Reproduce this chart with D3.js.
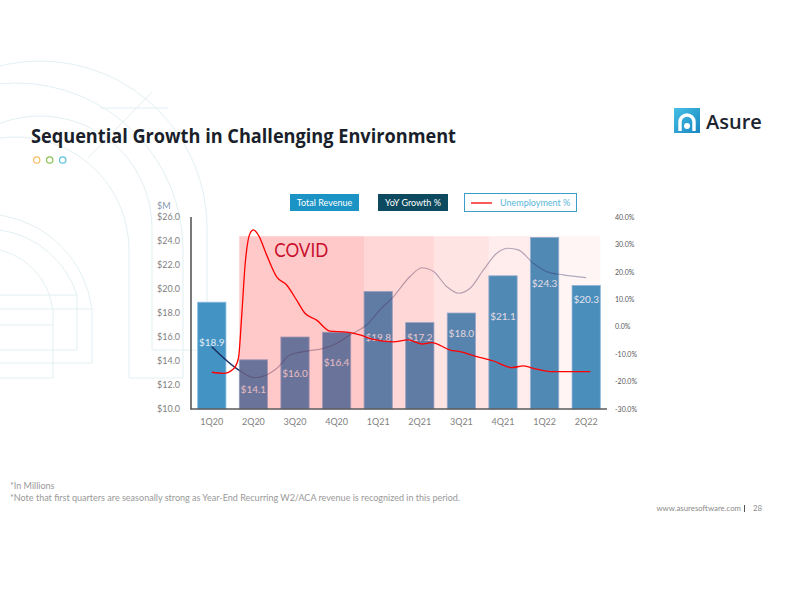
<!DOCTYPE html>
<html><head><meta charset="utf-8">
<script src="https://cdn.jsdelivr.net/npm/d3@7"></script>
<style>
html,body{margin:0;padding:0;background:#fff;}
svg{display:block;}
text{font-family:Lato,"Open Sans",sans-serif;}
</style></head>
<body>
<svg id="c" width="792" height="612"></svg>
<script>
// ---------- data ----------
const categories = ["1Q20","2Q20","3Q20","4Q20","1Q21","2Q21","3Q21","4Q21","1Q22","2Q22"];
const revenue = [18.9, 14.1, 16.0, 16.4, 19.8, 17.2, 18.0, 21.1, 24.3, 20.3];
// label anchor (in $M on the left axis)
const revenueLabelAt = [15.25, 11.33, 12.67, 13.6, 15.7, 15.7, 16.0, 17.4, 20.2, 18.8];
const leftTicks = [10, 12, 14, 16, 18, 20, 22, 24, 26];
const rightTicks = [-30, -20, -10, 0, 10, 20, 30, 40];
// YoY growth % (x = quarter index, fractional between quarters)
const yoyIndex = [0, 0.68, 1.04, 1.56, 1.88, 2.28, 2.68, 3.0, 3.32, 3.72, 4.04, 4.36, 4.76, 5.05, 5.33, 5.65, 5.93, 6.21, 6.53, 6.85, 7.13, 7.37, 7.73, 8.05, 8.45, 9.0];
const yoyValue = [-7.3, -16.1, -18.6, -15.2, -10.3, -8.9, -7.9, -6.1, -3.0, 0.6, 6.1, 10.9, 18.2, 21.5, 20.1, 14.6, 12.2, 14.0, 20.7, 26.8, 28.6, 28.0, 23.1, 20.1, 18.9, 17.9];
// Unemployment % curve (right axis)
const unempIndex = [0, 0.28, 0.52, 0.64, 0.72, 0.80, 0.92, 1.0, 1.12, 1.32, 1.56, 1.80, 2.04, 2.24, 2.52, 2.84, 3.24, 3.56, 3.88, 4.36, 4.72, 5.05, 5.29, 5.73, 5.97, 6.37, 6.77, 7.21, 7.49, 7.81, 8.17, 9.1];
const unempValue = [-16.6, -17.0, -15.4, -11.5, 4.3, 22.5, 34.1, 35.3, 33.4, 26.1, 18.2, 15.2, 9.7, 4.9, 2.4, -1.6, -2.0, -3.0, -4.6, -5.5, -4.8, -6.3, -5.8, -8.5, -9.1, -10.9, -12.5, -14.9, -14.3, -15.5, -16.4, -16.4];
// COVID shading phases: [category, side of bar]
const shadeFrom = [["2Q20","L"],["1Q21","L"],["2Q21","R"],["4Q21","L"],["1Q22","R"]];
const shadeTo   = [["1Q21","L"],["2Q21","R"],["4Q21","L"],["1Q22","R"],["2Q22","R"]];
const shadeTop = 24.4;
const legendLabels = ["Total Revenue", "YoY Growth %", "Unemployment %"];

// ---------- drawing ----------
const svg = d3.select("#c");

// decorative background outline (faint)
const deco = svg.append("g").attr("fill","none").attr("stroke","#E3F0F4").attr("stroke-width",1);
function arch(cx, cy, rOut, rIn, bottom){
  return `M${cx+rOut},${bottom} L${cx+rOut},${cy} A${rOut},${rOut} 0 0 0 ${cx-rOut},${cy} ` +
         `M${cx+rIn},${bottom} L${cx+rIn},${cy} A${rIn},${rIn} 0 0 0 ${cx-rIn},${cy} ` +
         `M${cx+rIn},${bottom} L${cx+rOut},${bottom}`;
}
deco.append("path").attr("d", arch(16, 250, 167, 113, 378));
deco.append("path").attr("d", arch(40, 228, 167, 112, 350));
deco.append("path").attr("d", "M0,295 L77,295 L77,350 L0,350 M0,309 L92,309 L92,363 L0,363 M0,325 L53,325 L53,378 L0,378");
deco.append("path").attr("d", "M0,230 A95,95 0 0 1 77,295 M0,215 A110,110 0 0 1 92,309 M0,250 A70,70 0 0 1 53,325");
deco.append("path").attr("d", "M152,92 L88,158 M100,108 L168,108");

// title
const title = svg.append("text").attr("x",31).attr("y",143)
  .style("font-family","'Open Sans',sans-serif").style("font-weight","700").style("font-size","20px")
  .attr("fill","#1A1F2B").text("Sequential Growth in Challenging Environment");
title.attr("textLength",425).attr("lengthAdjust","spacingAndGlyphs");
const dotColors = ["#F8BD63","#8CC152","#55C3DE"];
svg.selectAll("circle.dot").data(dotColors).join("circle").attr("class","dot")
  .attr("cx",(d,i)=>36.7+i*13).attr("cy",160).attr("r",3.2)
  .attr("fill","none").attr("stroke",d=>d).attr("stroke-width",1.2);

// logo
const defs = svg.append("defs");
const lg = defs.append("linearGradient").attr("id","lg").attr("x1","0").attr("y1","0").attr("x2","1").attr("y2","1");
lg.append("stop").attr("offset","0").attr("stop-color","#45C0E6");
lg.append("stop").attr("offset","1").attr("stop-color","#1A86C0");
svg.append("rect").attr("x",674).attr("y",108).attr("width",26).attr("height",25).attr("fill","url(#lg)");
svg.append("path").attr("d","M680,131 L680,122 A7,7 0 0 1 694,122 L694,131")
  .attr("fill","none").attr("stroke","#fff").attr("stroke-width",3.4);
svg.append("path").attr("d","M687,126 m-3,0 a3,3 0 1,0 6,0 a3,3 0 1,0 -6,0").attr("fill","#fff");
svg.append("text").attr("x",706).attr("y",129).style("font-family","'Open Sans',sans-serif")
  .style("font-weight","600").style("font-size","20px").attr("fill","#1C2430").text("Asure");

// scales
const x = d3.scaleBand().domain(categories).range([191, 607]).paddingInner(0.32).paddingOuter(0.16);
const bw = x.bandwidth();
const yL = d3.scaleLinear().domain([10, 26]).range([409, 217]);
const yR = d3.scaleLinear().domain([-30, 40]).range([409, 217]);
const xi = d3.scaleLinear().domain([0, categories.length - 1])
  .range([x(categories[0]) + bw/2, x(categories[categories.length-1]) + bw/2]);

// bars
svg.append("g").selectAll("rect").data(revenue).join("rect")
  .attr("x",(d,i)=>x(categories[i])).attr("width",bw)
  .attr("y",d=>yL(d)).attr("height",d=>yL(10)-yL(d))
  .attr("fill","#4394C4").attr("stroke","#8DBCE0").attr("stroke-width",0.8);

// YoY line (faded)
const yoyPts = yoyIndex.map((v,i)=>[xi(v), yR(yoyValue[i])]);
const lineGen = d3.line().curve(d3.curveMonotoneX);
svg.append("path").attr("d", lineGen(yoyPts)).attr("fill","none")
  .attr("stroke","#24386A").attr("stroke-opacity",0.38).attr("stroke-width",1.2);

// bar labels
svg.append("g").selectAll("text").data(revenue).join("text")
  .attr("x",(d,i)=>x(categories[i])+bw/2).attr("y",(d,i)=>yL(revenueLabelAt[i]))
  .attr("text-anchor","middle").style("font-size","10px").attr("fill","#E4EDF6")
  .text(d=>"$"+d.toFixed(1));

// shading overlay
const shadeAlpha = [0.21, 0.155, 0.105, 0.075, 0.04];
function edge(e){ return e[1]==="L" ? x(e[0]) : x(e[0]) + bw; }
svg.append("g").selectAll("rect").data(shadeFrom).join("rect")
  .attr("x",(d)=>edge(d)).attr("width",(d,i)=>edge(shadeTo[i])-edge(d))
  .attr("y",yL(shadeTop)).attr("height",yL(10)-yL(shadeTop))
  .attr("fill","#FF0000").attr("fill-opacity",(d,i)=>shadeAlpha[i]);

svg.append("text").attr("x",edge(shadeFrom[0])+35).attr("y",257)
  .style("font-size","19px").attr("fill","#C8102E").attr("textLength",54).attr("lengthAdjust","spacingAndGlyphs")
  .text("COVID");

// solid part of YoY line before the shaded period
defs.append("clipPath").attr("id","pre").append("rect")
  .attr("x",0).attr("y",0).attr("width",edge(shadeFrom[0])).attr("height",612);
svg.append("path").attr("d", lineGen(yoyPts)).attr("fill","none").attr("clip-path","url(#pre)")
  .attr("stroke","#1C2E63").attr("stroke-width",1.2);

// unemployment line
const unPts = unempIndex.map((v,i)=>[xi(v), yR(unempValue[i])]);
svg.append("path").attr("d", lineGen(unPts)).attr("fill","none")
  .attr("stroke","#FF0000").attr("stroke-width",1.3);

// axes
const axL = svg.append("g").attr("transform","translate(191,0)")
  .call(d3.axisLeft(yL).tickValues(leftTicks).tickSize(0).tickPadding(11).tickFormat(d=>"$"+d.toFixed(1)));
axL.select(".domain").remove();
axL.selectAll("text").style("font-family","Lato,sans-serif").style("font-size","9px").attr("fill","#7F7F7F");
svg.append("text").attr("x",157).attr("y",209).style("font-size","9px").attr("fill","#8497B0").text("$M");

const axR = svg.append("g").attr("transform","translate(607,0)")
  .call(d3.axisRight(yR).tickValues(rightTicks).tickSize(0).tickPadding(8).tickFormat(d=>d.toFixed(1)+"%"));
axR.select(".domain").remove();
axR.selectAll("text").style("font-family","Lato,sans-serif").style("font-size","7px").attr("fill","#595959");

const axB = svg.append("g").attr("transform","translate(0,409)")
  .call(d3.axisBottom(x).tickSize(0).tickPadding(9.5));
axB.select(".domain").remove();
axB.selectAll("text").style("font-family","Lato,sans-serif").style("font-size","9px").attr("fill","#7F7F7F");

svg.append("line").attr("x1",191).attr("x2",191).attr("y1",217).attr("y2",409.5)
  .attr("stroke","#404040").attr("stroke-width",1.4);
svg.append("line").attr("x1",190.5).attr("x2",607).attr("y1",409).attr("y2",409)
  .attr("stroke","#5A5A5A").attr("stroke-width",1.4);

// legend
const lgd = svg.append("g");
lgd.append("rect").attr("x",290).attr("y",194).attr("width",69).attr("height",17).attr("fill","#1B93C4");
lgd.append("text").attr("x",324.5).attr("y",206).attr("text-anchor","middle").style("font-size","9px")
  .attr("fill","#fff").text(legendLabels[0]);
lgd.append("rect").attr("x",378).attr("y",194).attr("width",70).attr("height",17).attr("fill","#0D4A5F");
lgd.append("text").attr("x",413).attr("y",206).attr("text-anchor","middle").style("font-size","9px")
  .attr("fill","#fff").text(legendLabels[1]);
lgd.append("rect").attr("x",464.5).attr("y",193.5).attr("width",112).attr("height",18).attr("fill","#fff")
  .attr("stroke","#3C9DC8").attr("stroke-width",1);
lgd.append("line").attr("x1",471).attr("x2",492).attr("y1",203).attr("y2",203).attr("stroke","#FF0000").attr("stroke-width",1.3);
lgd.append("text").attr("x",500).attr("y",206).style("font-size","9px").attr("fill","#58B6D8").text(legendLabels[2]);

// footer
svg.append("text").attr("x",10).attr("y",489).style("font-size","9px").attr("fill","#999").text("*In Millions");
svg.append("text").attr("x",10).attr("y",500.5).style("font-size","9px").attr("fill","#999")
  .attr("textLength",450).attr("lengthAdjust","spacingAndGlyphs")
  .text("*Note that first quarters are seasonally strong as Year-End Recurring W2/ACA revenue is recognized in this period.");
svg.append("text").attr("x",741).attr("y",511).attr("text-anchor","end").style("font-size","7.8px").attr("fill","#8C8C8C").text("www.asuresoftware.com");
svg.append("line").attr("x1",744.5).attr("x2",744.5).attr("y1",505).attr("y2",512).attr("stroke","#555").attr("stroke-width",1);
svg.append("text").attr("x",753).attr("y",511).style("font-size","7.8px").attr("fill","#8C8C8C").text("28");
</script>
</body></html>
